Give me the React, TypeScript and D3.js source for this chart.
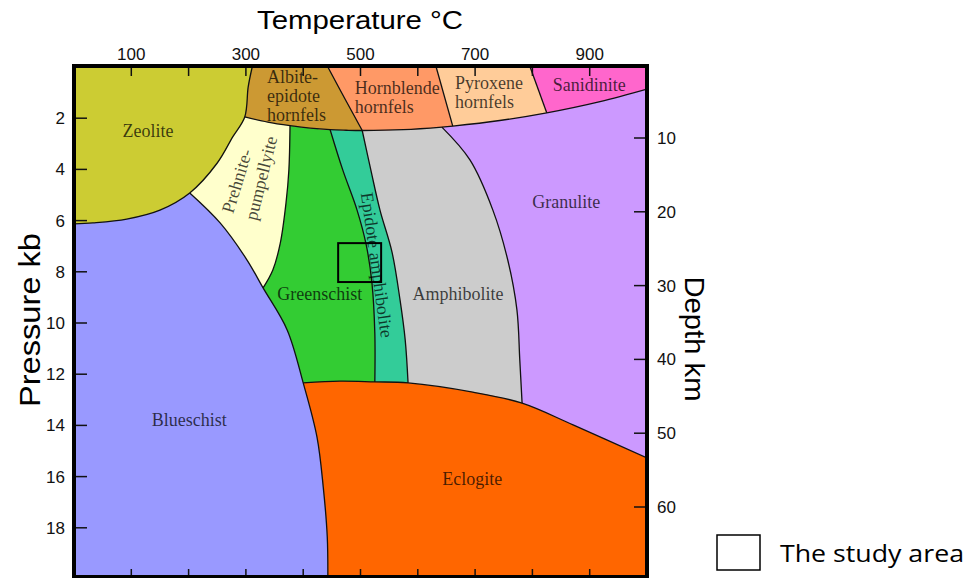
import React from "react";
import * as d3 from "d3";

type Pt = [number, number]; // [temperature °C, pressure kb]

// ---- axis ticks ----
const tempTicks = [100, 200, 300, 400, 500, 600, 700, 800, 900];
const tempLabels = [100, 300, 500, 700, 900];
const pressureTicks = [2, 4, 6, 8, 10, 12, 14, 16, 18];
const depthTicks = [10, 20, 30, 40, 50, 60];

// ---- facies boundaries [T, P] ----
const zeoliteArc: Pt[] = [[311, 0], [304, 0.78], [298, 1.95], [277, 2.73], [250, 3.75], [202, 4.92], [150, 5.59], [92, 5.94], [33, 6.09], [0, 6.13]];
const hornfelsBase: Pt[] = [[298, 1.95], [338, 2.15], [377, 2.29], [412, 2.39], [447, 2.45], [475, 2.47], [503, 2.48], [575, 2.45], [642, 2.35], [661, 2.31], [743, 2.09], [825, 1.79], [918, 1.35], [1000, 0.86]];
const albHbl: Pt[] = [[443, 0], [473, 1.25], [503, 2.48]];
const hblPx: Pt[] = [[632, 0], [661, 2.31]];
const pxSan: Pt[] = [[796, 0], [825, 1.79]];
const prehGs: Pt[] = [[377, 2.29], [375, 4.02], [370, 5.31], [360, 6.88], [347, 7.93], [330, 8.63]];
const blueschistTop: Pt[] = [[202, 4.92], [255, 6.09], [302, 7.54], [330, 8.63], [372, 10.27], [400, 12.34], [424, 14.45], [435, 16.41], [442, 18.36], [443, 20]];
const gsEa: Pt[] = [[447, 2.45], [469, 4.02], [494, 5.59], [510, 6.95], [520, 8.44], [525, 10.39], [525, 12.3]];
const eaAm: Pt[] = [[503, 2.48], [518, 4.02], [534, 5.59], [555, 7.23], [569, 9.1], [578, 10.66], [583, 12.34]];
const amGr: Pt[] = [[642, 2.35], [691, 3.63], [731, 5.59], [757, 7.54], [773, 9.49], [778, 11.45], [782, 13.13]];
const eclogiteTop: Pt[] = [[400, 12.34], [464, 12.27], [525, 12.3], [583, 12.34], [696, 12.7], [782, 13.13], [871, 13.98], [1000, 15.27]];

// study area [Tmin, Tmax] x [Pmin, Pmax]
const studyT = [461, 536];
const studyP = [6.88, 8.4];

// ---- facies names & colours ----
const faciesNames = [
  "Granulite", "Amphibolite", "Epidote amphibolite", "Greenschist", "Prehnite-pumpellyite",
  "Eclogite", "Blueschist", "Sanidinite", "Pyroxene hornfels", "Hornblende hornfels",
  "Albite-epidote hornfels", "Zeolite",
];
const faciesColors = [
  "#cc99ff", "#cccccc", "#33cc99", "#33cc33", "#ffffcc",
  "#ff6600", "#9999ff", "#ff66cc", "#ffcc99", "#ff9966",
  "#cc9933", "#cccc33",
];

// painting: one boundary curve + straight closing points (painted in order)
const faciesShapes: { curve: Pt[]; close: Pt[]; clip?: boolean }[] = [
  { curve: [[-10, -1], [1010, -1]], close: [[1010, 21], [-10, 21]] },
  { curve: amGr, close: [[0, 16], [-10, 16], [-10, -1], [642, -1]] },
  { curve: eaAm, close: [[0, 16], [-10, 16], [-10, -1], [503, -1]] },
  { curve: gsEa, close: [[0, 16], [-10, 16], [-10, -1], [447, -1]] },
  { curve: prehGs, close: [[0, 12], [-10, 12], [-10, -1], [377, -1]] },
  { curve: eclogiteTop, close: [[1010, 15.27], [1010, 21], [300, 21]] },
  { curve: blueschistTop, close: [[443, 21], [-10, 21], [-10, 4.92]] },
  { curve: [[-10, -5], [1010, -5]], close: [[1010, 5], [-10, 5]], clip: true },
  { curve: pxSan, close: [[825, 3], [-10, 3], [-10, -1], [796, -1]], clip: true },
  { curve: hblPx, close: [[661, 3], [-10, 3], [-10, -1], [632, -1]], clip: true },
  { curve: albHbl, close: [[503, 3], [-10, 3], [-10, -1], [443, -1]], clip: true },
  { curve: zeoliteArc, close: [[-10, 6.13], [-10, -1], [311, -1]] },
];

const boundaries: Pt[][] = [zeoliteArc, hornfelsBase, albHbl, hblPx, pxSan, prehGs, blueschistTop, gsEa, eaAm, amGr, eclogiteTop];

// ---- label layout ----
type Lab = { lines: string[]; T: number; P: number; gap?: number; anchor?: string; rot?: number };
const labelLayout: Lab[] = [
  { lines: ["Zeolite"], T: 129, P: 2.5 },
  { lines: ["Albite-", "epidote", "hornfels"], T: 337, P: 0.39, gap: 19, anchor: "start" },
  { lines: ["Hornblende", "hornfels"], T: 490, P: 0.82, gap: 19, anchor: "start" },
  { lines: ["Pyroxene", "hornfels"], T: 665, P: 0.625, gap: 19, anchor: "start" },
  { lines: ["Sanidinite"], T: 899, P: 0.7 },
  { lines: ["Prehnite-"], T: 284, P: 4.45, rot: -73 },
  { lines: ["pumpellyite"], T: 326, P: 4.34, rot: -76 },
  { lines: ["Greenschist"], T: 429, P: 8.87 },
  { lines: ["Epidote amphibolite"], T: 529, P: 7.73, rot: 82 },
  { lines: ["Amphibolite"], T: 670, P: 8.87 },
  { lines: ["Granulite"], T: 859, P: 5.27 },
  { lines: ["Blueschist"], T: 201, P: 13.79 },
  { lines: ["Eclogite"], T: 695, P: 16.09 },
];

const W = 967;
const H = 578;
const left = 74, right = 647, top = 67, bottomFrame = 577;

export default function App() {
  const x = d3.scaleLinear().domain([0, 1000]).range([left, right]);
  const y = d3.scaleLinear().domain([0, 20]).range([top, 579]);
  const yDepth = d3.scaleLinear().domain([0, 70]).range([64.2, 580.8]);

  const smooth = d3
    .line<Pt>()
    .x((d) => x(d[0]))
    .y((d) => y(d[1]))
    .curve(d3.curveCatmullRom.alpha(0.5));
  const straight = d3
    .line<Pt>()
    .x((d) => x(d[0]))
    .y((d) => y(d[1]));

  const shapePath = (curve: Pt[], close: Pt[]) =>
    (smooth(curve) || "") + "L" + (straight(close) || "").slice(1) + "Z";

  const aboveHornfels = shapePath(hornfelsBase, [[1010, 0.86], [1010, -5], [-10, -5], [-10, 1.95]]);

  const sans = "'Liberation Sans', Arial, sans-serif";
  const serif = "'Liberation Serif', 'Times New Roman', serif";

  return (
    <svg width={W} height={H} style={{ position: "absolute", left: 0, top: 0, background: "#fff" }}>
      <defs>
        <clipPath id="plotClip">
          <rect x={left} y={top - 1} width={right - left} height={bottomFrame - top + 1} />
        </clipPath>
        <clipPath id="hornfelsClip">
          <path d={aboveHornfels} />
        </clipPath>
      </defs>
      <g clipPath="url(#plotClip)">
        {faciesShapes.map((s, i) => (
          <path
            key={faciesNames[i]}
            d={shapePath(s.curve, s.close)}
            fill={faciesColors[i]}
            clipPath={s.clip ? "url(#hornfelsClip)" : undefined}
          />
        ))}
        {boundaries.map((b, i) => (
          <path key={i} d={smooth(b) || ""} fill="none" stroke="#111" strokeWidth={1.3} />
        ))}
        {labelLayout.map((l, i) => {
          const gap = l.gap || 0;
          return (
            <text
              key={i}
              transform={`translate(${x(l.T)},${y(l.P)}) rotate(${l.rot || 0})`}
              textAnchor={l.anchor || "middle"}
              fontFamily={serif}
              fontSize={18}
              fill="#000"
              fillOpacity={0.72}
            >
              {l.lines.map((t, j) => (
                <tspan key={j} x={0} y={j * gap} dy="0.35em">
                  {t}
                </tspan>
              ))}
            </text>
          );
        })}
        <rect
          x={x(studyT[0])}
          y={y(studyP[0])}
          width={x(studyT[1]) - x(studyT[0])}
          height={y(studyP[1]) - y(studyP[0])}
          fill="none"
          stroke="#000"
          strokeWidth={2}
        />
        {tempTicks.map((t) => (
          <g key={t}>
            <line x1={x(t)} x2={x(t)} y1={top} y2={top + 9} stroke="#111" strokeWidth={1.5} />
            <line x1={x(t)} x2={x(t)} y1={bottomFrame} y2={bottomFrame - 8} stroke="#111" strokeWidth={1.5} />
          </g>
        ))}
        {pressureTicks.map((p) => (
          <line key={p} x1={left} x2={left + 13} y1={y(p)} y2={y(p)} stroke="#111" strokeWidth={1.5} />
        ))}
        {depthTicks.map((d) => (
          <line key={d} x1={right} x2={right - 13} y1={yDepth(d)} y2={yDepth(d)} stroke="#111" strokeWidth={1.5} />
        ))}
      </g>
      <rect x={left} y={top - 1} width={right - left} height={bottomFrame - top + 1} fill="none" stroke="#000" strokeWidth={4} />

      {tempLabels.map((t) => (
        <text key={t} x={x(t)} y={60} textAnchor="middle" fontFamily={sans} fontSize={17} fill="#111">
          {t}
        </text>
      ))}
      {pressureTicks.map((p) => (
        <text key={p} x={65} y={y(p)} dy="0.35em" textAnchor="end" fontFamily={sans} fontSize={17} fill="#111">
          {p}
        </text>
      ))}
      {depthTicks.map((d) => (
        <text key={d} x={657} y={yDepth(d)} dy="0.35em" textAnchor="start" fontFamily={sans} fontSize={17} fill="#111">
          {d}
        </text>
      ))}

      <text x={360} y={29} textAnchor="middle" fontFamily={sans} fontSize={26} textLength={206} lengthAdjust="spacingAndGlyphs" fill="#000">
        Temperature °C
      </text>
      <text transform="translate(40,320) rotate(-90)" textAnchor="middle" fontFamily={sans} fontSize={30} textLength={174} lengthAdjust="spacingAndGlyphs" fill="#000">
        Pressure kb
      </text>
      <text transform="translate(685,339) rotate(90)" textAnchor="middle" fontFamily={sans} fontSize={28} textLength={125} lengthAdjust="spacingAndGlyphs" fill="#000">
        Depth km
      </text>

      <rect x={717} y={535} width={43} height={35} fill="#fff" stroke="#000" strokeWidth={1.5} />
      <text x={780} y={562} fontFamily="'Open Sans', sans-serif" fontSize={24} textLength={184} lengthAdjust="spacingAndGlyphs" fill="#000">
        The study area
      </text>
    </svg>
  );
}
